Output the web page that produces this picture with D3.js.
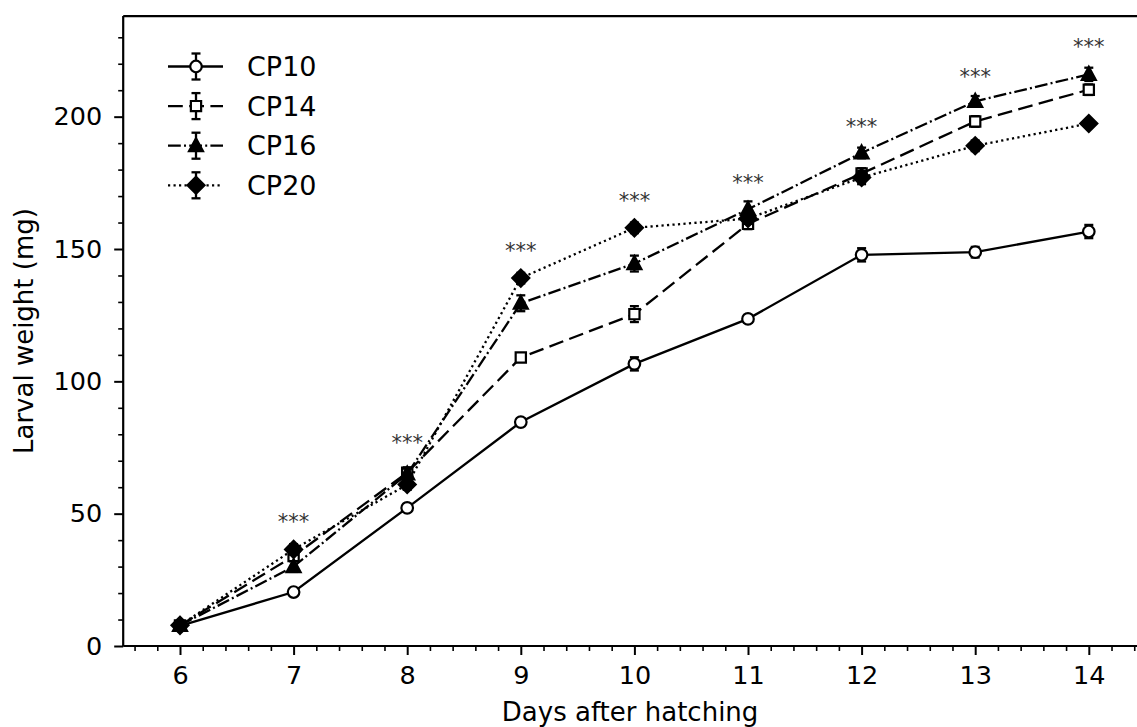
<!DOCTYPE html>
<html>
<head>
<meta charset="utf-8">
<script src="https://cdn.jsdelivr.net/npm/d3@7"></script>
<style>
  body { margin: 0; background: #fff; }
  svg { display: block; font-family: "DejaVu Sans", sans-serif; }
</style>
</head>
<body>
<svg id="chart" width="1137" height="727"></svg>
<script>
// days after hatching
const days = [6, 7, 8, 9, 10, 11, 12, 13, 14];

// mean larval weight (mg) per group
const cp10 = [7.6, 20.4, 52.2, 84.6, 106.6, 123.6, 147.8, 148.8, 156.6];
const cp14 = [7.8, 34.0, 65.5, 109.0, 125.4, 159.5, 178.5, 198.2, 210.2];
const cp16 = [7.8, 30.0, 65.0, 129.5, 144.5, 165.0, 186.3, 205.8, 216.0];
const cp20 = [7.8, 36.5, 61.0, 139.0, 158.0, 161.5, 177.0, 189.0, 197.4];

// standard errors
const cp10Err = [0.8, 1.5, 1.5, 1.5, 2.5, 1.5, 2.5, 2.0, 2.5];
const cp14Err = [0.8, 1.5, 2.0, 1.5, 3.0, 2.0, 2.0, 2.0, 2.0];
const cp16Err = [0.8, 2.0, 2.0, 3.0, 3.0, 3.0, 2.0, 2.0, 2.5];
const cp20Err = [0.8, 2.0, 2.0, 2.0, 2.0, 2.0, 2.5, 2.0, 1.0];

// significance marks (label, height in mg)
const sigDays = [7, 8, 9, 10, 11, 12, 13, 14];
const sigY = [48.4, 78.5, 150.8, 169.7, 176.8, 197.8, 216.8, 228.2];
const sigLabel = "***";

const seriesNames = ["CP10", "CP14", "CP16", "CP20"];
const yTicks = [0, 50, 100, 150, 200];

const series = [
  { name: seriesNames[0], vals: cp10, err: cp10Err, dash: null, marker: "circle" },
  { name: seriesNames[1], vals: cp14, err: cp14Err, dash: "14.8,6.4", marker: "square" },
  { name: seriesNames[2], vals: cp16, err: cp16Err, dash: "12.8,3.2,2,3.2", marker: "triangle" },
  { name: seriesNames[3], vals: cp20, err: cp20Err, dash: "2.2,3.3", marker: "diamond" },
];

const svg = d3.select("#chart");
svg.append("rect").attr("width", 1137).attr("height", 727).attr("fill", "#fff");

const x = d3.scaleLinear().domain([5.5, 14.5]).range([123.2, 1145.6]);
const y = d3.scaleLinear().domain([0, 238]).range([646, 16.1]);

const lw = 2.3;

// minor ticks
const xMinor = d3.range(5.6, 14.5, 0.2).filter(v => Math.abs(v - Math.round(v)) > 0.05);
const yMinor = d3.range(10, 238, 10).filter(v => v % 50 !== 0);

const gx = svg.append("g").attr("transform", `translate(0,${y(0)})`);
gx.call(d3.axisBottom(x).tickValues(xMinor).tickSize(5).tickFormat(""));
gx.selectAll(".tick line").attr("stroke-width", 1.6);
gx.select(".domain").remove();
const gxMaj = svg.append("g").attr("transform", `translate(0,${y(0)})`);
gxMaj.call(d3.axisBottom(x).tickValues(days).tickSize(9).tickPadding(11).tickFormat(d3.format("d")));
gxMaj.selectAll(".tick line").attr("stroke-width", 2);
gxMaj.selectAll(".tick text").attr("font-size", 25.5).attr("font-family", "DejaVu Sans").attr("fill", "#000");
gxMaj.select(".domain").attr("stroke-width", 2.2).attr("d", `M${x(5.5)},0H1140`);

const gy = svg.append("g").attr("transform", `translate(${x(5.5)},0)`);
gy.call(d3.axisLeft(y).tickValues(yMinor).tickSize(5).tickFormat(""));
gy.selectAll(".tick line").attr("stroke-width", 1.6);
gy.select(".domain").remove();
const gyMaj = svg.append("g").attr("transform", `translate(${x(5.5)},0)`);
gyMaj.call(d3.axisLeft(y).tickValues(yTicks).tickSize(9).tickPadding(12));
gyMaj.selectAll(".tick line").attr("stroke-width", 2);
gyMaj.selectAll(".tick text").attr("font-size", 25.5).attr("font-family", "DejaVu Sans").attr("fill", "#000");
gyMaj.select(".domain").attr("stroke-width", 2.2).attr("d", `M0,${y(0)}V${y(238)}`);

// top spine
svg.append("line")
  .attr("x1", x(5.5)).attr("x2", 1140)
  .attr("y1", y(238)).attr("y2", y(238))
  .attr("stroke", "#000").attr("stroke-width", 2.2);

// axis labels
svg.append("text")
  .attr("x", (x(5.5) + 1137) / 2).attr("y", 721)
  .attr("text-anchor", "middle").attr("font-size", 26)
  .text("Days after hatching");
svg.append("text")
  .attr("transform", `translate(33,${(y(0) + y(238)) / 2}) rotate(-90)`)
  .attr("text-anchor", "middle").attr("font-size", 26)
  .text("Larval weight (mg)");

function markerPath(kind) {
  if (kind === "circle") return d3.symbol(d3.symbolCircle, 105)();
  if (kind === "square") return d3.symbol(d3.symbolSquare, 105)();
  if (kind === "triangle") return "M0,-7.5L7,5.5L-7,5.5Z";
  return "M0,-8.5L8.5,0L0,8.5L-8.5,0Z";
}
function markerFill(kind) {
  return (kind === "circle" || kind === "square") ? "#fff" : "#000";
}

const line = d3.line().x(d => x(d[0])).y(d => y(d[1]));

series.forEach(s => {
  const g = svg.append("g");
  const pts = days.map((d, i) => [d, s.vals[i], s.err[i]]);
  g.append("path")
    .attr("d", line(pts))
    .attr("fill", "none").attr("stroke", "#000").attr("stroke-width", lw)
    .attr("stroke-dasharray", s.dash);
  // error bars
  const eb = g.selectAll(".eb").data(pts).join("g");
  eb.append("line")
    .attr("x1", d => x(d[0])).attr("x2", d => x(d[0]))
    .attr("y1", d => y(d[1] - d[2])).attr("y2", d => y(d[1] + d[2]))
    .attr("stroke", "#000").attr("stroke-width", lw);
  [-1, 1].forEach(sg => {
    eb.append("line")
      .attr("x1", d => x(d[0]) - 4.5).attr("x2", d => x(d[0]) + 4.5)
      .attr("y1", d => y(d[1] + sg * d[2])).attr("y2", d => y(d[1] + sg * d[2]))
      .attr("stroke", "#000").attr("stroke-width", lw);
  });
  g.selectAll(".mk").data(pts).join("path")
    .attr("transform", d => `translate(${x(d[0])},${y(d[1])})`)
    .attr("d", markerPath(s.marker))
    .attr("fill", markerFill(s.marker)).attr("stroke", "#000").attr("stroke-width", 2.2);
});

// significance marks
svg.selectAll(".sig").data(sigDays).join("text")
  .attr("x", d => x(d)).attr("y", (d, i) => y(sigY[i]) + 11.5)
  .attr("text-anchor", "middle").attr("font-size", 21).attr("fill", "#333")
  .text(sigLabel);

// legend
const legend = svg.append("g");
series.forEach((s, i) => {
  const ly = 66.5 + i * 39.6;
  const row = legend.append("g").attr("transform", `translate(0,${ly})`);
  row.append("line").attr("x1", 168).attr("x2", 223).attr("y1", 0).attr("y2", 0)
    .attr("stroke", "#000").attr("stroke-width", lw).attr("stroke-dasharray", s.dash);
  row.append("line").attr("x1", 196).attr("x2", 196).attr("y1", -13).attr("y2", 13)
    .attr("stroke", "#000").attr("stroke-width", lw);
  [-13, 13].forEach(v => row.append("line").attr("x1", 191.5).attr("x2", 200.5)
    .attr("y1", v).attr("y2", v).attr("stroke", "#000").attr("stroke-width", lw));
  row.append("path").attr("d", markerPath(s.marker)).attr("transform", "translate(196,0)")
    .attr("fill", markerFill(s.marker)).attr("stroke", "#000").attr("stroke-width", 2.2);
  row.append("text").attr("x", 247).attr("y", 0).attr("dy", "0.36em")
    .attr("font-size", 27).text(s.name);
});
</script>
</body>
</html>
